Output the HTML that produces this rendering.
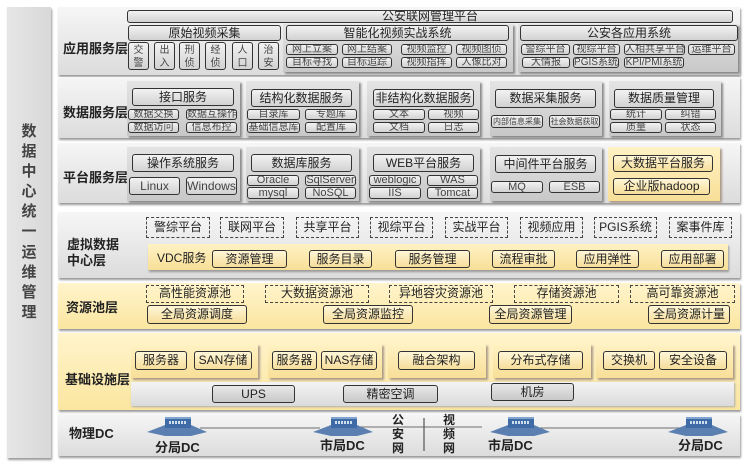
<!DOCTYPE html>
<html><head><meta charset="utf-8"><style>
*{box-sizing:border-box;margin:0;padding:0}
body{width:747px;height:463px;background:#fff;position:relative;overflow:hidden;font-family:"Liberation Sans","Noto Sans CJK SC",sans-serif;color:#222}
div{position:absolute}
.row{background:linear-gradient(#f6f6f6,#dcdcdc);box-shadow:1px 2px 2px #999}
.yrow{background:linear-gradient(#fff4cc,#fbe6a0);box-shadow:1px 2px 2px #999}
.pan{background:linear-gradient(#e4e4e4,#c8c8c8);box-shadow:2px 2px 2px #888}
.ypan{background:linear-gradient(#fff2c4,#f8df98);box-shadow:2px 2px 2px #a98}
.b{border:1px solid #333;border-radius:3px;background:linear-gradient(#f2f2f2,#d2d2d2);text-align:center;font-size:10px;color:#444;white-space:nowrap;overflow:hidden}
.t{font-size:12px;color:#222}
.y{background:linear-gradient(#fff7d8,#f6dd9a)}
.g{background:linear-gradient(#e8e8e8,#c8c8c8)}
.d{border:1.5px dashed #444;text-align:center;font-size:12px;color:#222;white-space:nowrap}
.lab{font-weight:bold;font-size:13px;color:#222;white-space:nowrap}
.v{font-size:10px;line-height:13px;padding-top:1px}
.lc{font-size:15px;font-weight:bold;color:#444;width:44px;text-align:center;left:7px}
</style></head><body>
<div style="left:7px;top:7px;width:44px;height:451px;background:linear-gradient(90deg,#e6e6e6,#d8d8d8);box-shadow:1px 2px 2px #999"></div>
<div class="lc" style="top:120px">数</div><div class="lc" style="top:140px">据</div><div class="lc" style="top:160px">中</div><div class="lc" style="top:180px">心</div><div class="lc" style="top:200px">统</div><div class="lc" style="top:220px">一</div><div class="lc" style="top:241px">运</div><div class="lc" style="top:261px">维</div><div class="lc" style="top:281px">管</div><div class="lc" style="top:301px">理</div>

<!-- rows -->
<div class="row" style="left:58px;top:7px;width:682px;height:68px"></div>
<div class="row" style="left:58px;top:77px;width:682px;height:61px"></div>
<div class="row" style="left:58px;top:143px;width:682px;height:60px"></div>
<div class="row" style="left:58px;top:212px;width:682px;height:66px"></div>
<div class="yrow" style="left:58px;top:283px;width:682px;height:46px"></div>
<div class="yrow" style="left:58px;top:333px;width:682px;height:77px"></div>
<div class="row" style="left:58px;top:414px;width:682px;height:42px"></div>

<div class="lab" style="left:63px;top:38px">应用服务层</div>
<div class="lab" style="left:63px;top:102px">数据服务层</div>
<div class="lab" style="left:63px;top:167px">平台服务层</div>
<div class="lab" style="left:67px;top:234px">虚拟数据</div>
<div class="lab" style="left:67px;top:250px">中心层</div>
<div class="lab" style="left:66px;top:297px">资源池层</div>
<div class="lab" style="left:65px;top:369px">基础设施层</div>
<div class="lab" style="left:69px;top:423px">物理DC</div>

<!-- app layer -->
<div class="b t" style="left:127px;top:10px;width:606px;height:13px;line-height:11px">公安联网管理平台</div>
<div class="b t" style="left:128px;top:25px;width:153px;height:16px;line-height:14px">原始视频采集</div>
<div class="b v" style="left:128px;top:42px;width:21px;height:28px">交<br>警</div>
<div class="b v" style="left:154px;top:42px;width:21px;height:28px">出<br>入</div>
<div class="b v" style="left:179px;top:42px;width:21px;height:28px">刑<br>侦</div>
<div class="b v" style="left:205px;top:42px;width:21px;height:28px">经<br>侦</div>
<div class="b v" style="left:232px;top:42px;width:21px;height:28px">人<br>口</div>
<div class="b v" style="left:258px;top:42px;width:21px;height:28px">治<br>安</div>
<div class="pan" style="left:283px;top:24px;width:230px;height:48px"></div>
<div class="b t" style="left:286px;top:25px;width:223px;height:16px;line-height:14px">智能化视频实战系统</div>
<div class="b" style="left:286px;top:44px;width:52px;height:11px;line-height:9px">网上立案</div>
<div class="b" style="left:342px;top:44px;width:50px;height:11px;line-height:9px">网上结案</div>
<div class="b" style="left:401px;top:44px;width:51px;height:11px;line-height:9px">视频监控</div>
<div class="b" style="left:456px;top:44px;width:51px;height:11px;line-height:9px">视频图侦</div>
<div class="b" style="left:286px;top:57px;width:52px;height:11px;line-height:9px">目标寻找</div>
<div class="b" style="left:342px;top:57px;width:50px;height:11px;line-height:9px">目标追踪</div>
<div class="b" style="left:401px;top:57px;width:51px;height:11px;line-height:9px">视频指挥</div>
<div class="b" style="left:456px;top:57px;width:51px;height:11px;line-height:9px">人像比对</div>
<div class="pan" style="left:518px;top:24px;width:220px;height:48px"></div>
<div class="b t" style="left:520px;top:25px;width:218px;height:16px;line-height:14px">公安各应用系统</div>
<div class="b" style="left:521px;top:44px;width:49px;height:11px;line-height:9px">警综平台</div>
<div class="b" style="left:573px;top:44px;width:47px;height:11px;line-height:9px">视综平台</div>
<div class="b" style="left:624px;top:44px;width:61px;height:11px;line-height:9px">人相共享平台</div>
<div class="b" style="left:688px;top:44px;width:47px;height:11px;line-height:9px">运维平台</div>
<div class="b" style="left:522px;top:57px;width:48px;height:11px;line-height:9px">大情报</div>
<div class="b" style="left:573px;top:57px;width:46px;height:11px;line-height:9px">PGIS系统</div>
<div class="b" style="left:624px;top:57px;width:60px;height:11px;line-height:9px">KPI/PMI系统</div>

<!-- data layer -->
<div class="pan" style="left:127px;top:81px;width:113px;height:55px"></div>
<div class="pan" style="left:246px;top:81px;width:113px;height:55px"></div>
<div class="pan" style="left:367px;top:81px;width:113px;height:55px"></div>
<div class="pan" style="left:490px;top:81px;width:112px;height:55px"></div>
<div class="pan" style="left:609px;top:81px;width:112px;height:55px"></div>
<div class="b t" style="left:132px;top:88px;width:102px;height:18px;line-height:16px">接口服务</div>
<div class="b t" style="left:251px;top:89px;width:101px;height:18px;line-height:16px">结构化数据服务</div>
<div class="b t" style="left:373px;top:89px;width:101px;height:18px;line-height:16px">非结构化数据服务</div>
<div class="b t" style="left:495px;top:89px;width:101px;height:19px;line-height:17px">数据采集服务</div>
<div class="b t" style="left:614px;top:89px;width:100px;height:19px;line-height:17px">数据质量管理</div>
<div class="b" style="left:128px;top:109px;width:51px;height:11px;line-height:9px">数据交换</div>
<div class="b" style="left:186px;top:109px;width:51px;height:11px;line-height:9px">数据互操作</div>
<div class="b" style="left:128px;top:122px;width:51px;height:11px;line-height:9px">数据访问</div>
<div class="b" style="left:186px;top:122px;width:51px;height:11px;line-height:9px">信息布控</div>
<div class="b" style="left:247px;top:109px;width:53px;height:11px;line-height:9px">目录库</div>
<div class="b" style="left:305px;top:109px;width:52px;height:11px;line-height:9px">专题库</div>
<div class="b" style="left:247px;top:122px;width:53px;height:11px;line-height:9px">基础信息库</div>
<div class="b" style="left:305px;top:122px;width:52px;height:11px;line-height:9px">配置库</div>
<div class="b" style="left:373px;top:109px;width:52px;height:11px;line-height:9px">文本</div>
<div class="b" style="left:428px;top:109px;width:51px;height:11px;line-height:9px">视频</div>
<div class="b" style="left:373px;top:122px;width:52px;height:11px;line-height:9px">文档</div>
<div class="b" style="left:428px;top:122px;width:51px;height:11px;line-height:9px">日志</div>
<div class="b" style="left:491px;top:115px;width:52px;height:13px;line-height:11px;font-size:8px">内部信息采集</div>
<div class="b" style="left:549px;top:115px;width:51px;height:13px;line-height:11px;font-size:8px">社会数据获取</div>
<div class="b" style="left:610px;top:109px;width:52px;height:11px;line-height:9px">统计</div>
<div class="b" style="left:665px;top:109px;width:51px;height:11px;line-height:9px">纠错</div>
<div class="b" style="left:610px;top:122px;width:52px;height:11px;line-height:9px">质量</div>
<div class="b" style="left:665px;top:122px;width:51px;height:11px;line-height:9px">状态</div>

<!-- platform layer -->
<div class="pan" style="left:127px;top:147px;width:113px;height:54px"></div>
<div class="pan" style="left:246px;top:147px;width:113px;height:54px"></div>
<div class="pan" style="left:367px;top:147px;width:113px;height:54px"></div>
<div class="pan" style="left:490px;top:147px;width:112px;height:54px"></div>
<div class="ypan" style="left:608px;top:147px;width:112px;height:54px"></div>
<div class="b t" style="left:132px;top:154px;width:102px;height:18px;line-height:16px">操作系统服务</div>
<div class="b t" style="left:251px;top:154px;width:101px;height:18px;line-height:16px">数据库服务</div>
<div class="b t" style="left:373px;top:154px;width:101px;height:18px;line-height:16px">WEB平台服务</div>
<div class="b t" style="left:495px;top:155px;width:101px;height:18px;line-height:16px">中间件平台服务</div>
<div class="b t y" style="left:613px;top:155px;width:100px;height:17px;line-height:15px">大数据平台服务</div>
<div class="b t y" style="left:613px;top:178px;width:97px;height:17px;line-height:15px">企业版hadoop</div>
<div class="b" style="left:129px;top:177px;width:51px;height:18px;line-height:16px;font-size:12px">Linux</div>
<div class="b" style="left:186px;top:177px;width:51px;height:18px;line-height:16px;font-size:12px">Windows</div>
<div class="b" style="left:247px;top:175px;width:52px;height:11px;line-height:9px;font-size:11px">Oracle</div>
<div class="b" style="left:305px;top:175px;width:51px;height:11px;line-height:9px;font-size:11px">SqlServer</div>
<div class="b" style="left:247px;top:187px;width:52px;height:12px;line-height:10px;font-size:11px">mysql</div>
<div class="b" style="left:305px;top:187px;width:51px;height:12px;line-height:10px;font-size:11px">NoSQL</div>
<div class="b" style="left:369px;top:175px;width:52px;height:11px;line-height:9px;font-size:11px">weblogic</div>
<div class="b" style="left:427px;top:175px;width:51px;height:11px;line-height:9px;font-size:11px">WAS</div>
<div class="b" style="left:369px;top:187px;width:52px;height:12px;line-height:10px;font-size:11px">IIS</div>
<div class="b" style="left:427px;top:187px;width:51px;height:12px;line-height:10px;font-size:11px">Tomcat</div>
<div class="b" style="left:491px;top:181px;width:52px;height:12px;line-height:10px;font-size:11px">MQ</div>
<div class="b" style="left:549px;top:181px;width:51px;height:12px;line-height:10px;font-size:11px">ESB</div>

<!-- VDC -->
<div class="d" style="left:146px;top:217px;width:64px;height:21px;line-height:18px">警综平台</div>
<div class="d" style="left:220px;top:217px;width:64px;height:21px;line-height:18px">联网平台</div>
<div class="d" style="left:296px;top:217px;width:63px;height:21px;line-height:18px">共享平台</div>
<div class="d" style="left:370px;top:217px;width:63px;height:21px;line-height:18px">视综平台</div>
<div class="d" style="left:445px;top:217px;width:63px;height:21px;line-height:18px">实战平台</div>
<div class="d" style="left:520px;top:217px;width:63px;height:21px;line-height:18px">视频应用</div>
<div class="d" style="left:594px;top:217px;width:63px;height:21px;line-height:18px">PGIS系统</div>
<div class="d" style="left:669px;top:217px;width:63px;height:21px;line-height:18px">案事件库</div>
<div class="ypan" style="left:148px;top:244px;width:580px;height:26px;box-shadow:1px 2px 2px #999"></div>
<div style="left:157px;top:249px;font-size:12px">VDC服务</div>
<div class="b t y" style="left:212px;top:250px;width:75px;height:18px;line-height:16px">资源管理</div>
<div class="b t y" style="left:309px;top:250px;width:63px;height:18px;line-height:16px">服务目录</div>
<div class="b t y" style="left:395px;top:250px;width:75px;height:18px;line-height:16px">服务管理</div>
<div class="b t y" style="left:492px;top:250px;width:63px;height:18px;line-height:16px">流程审批</div>
<div class="b t y" style="left:576px;top:250px;width:63px;height:18px;line-height:16px">应用弹性</div>
<div class="b t y" style="left:661px;top:250px;width:63px;height:18px;line-height:16px">应用部署</div>

<!-- resource pool -->
<div class="d" style="left:146px;top:285px;width:98px;height:18px;line-height:15px">高性能资源池</div>
<div class="d" style="left:265px;top:285px;width:104px;height:18px;line-height:15px">大数据资源池</div>
<div class="d" style="left:389px;top:285px;width:104px;height:18px;line-height:15px">异地容灾资源池</div>
<div class="d" style="left:514px;top:285px;width:105px;height:18px;line-height:15px">存储资源池</div>
<div class="d" style="left:630px;top:285px;width:105px;height:18px;line-height:15px">高可靠资源池</div>
<div class="b t y" style="left:147px;top:305px;width:100px;height:19px;line-height:17px">全局资源调度</div>
<div class="b t y" style="left:323px;top:305px;width:90px;height:19px;line-height:17px">全局资源监控</div>
<div class="b t y" style="left:489px;top:305px;width:83px;height:19px;line-height:17px">全局资源管理</div>
<div class="b t y" style="left:648px;top:305px;width:82px;height:19px;line-height:17px">全局资源计量</div>

<!-- infra -->
<div class="ypan" style="left:131px;top:344px;width:127px;height:34px"></div>
<div class="ypan" style="left:268px;top:344px;width:114px;height:34px"></div>
<div class="ypan" style="left:388px;top:344px;width:98px;height:34px"></div>
<div class="ypan" style="left:493px;top:344px;width:98px;height:34px"></div>
<div class="ypan" style="left:596px;top:344px;width:137px;height:34px"></div>
<div class="b t y" style="left:135px;top:351px;width:52px;height:19px;line-height:17px">服务器</div>
<div class="b t y" style="left:194px;top:351px;width:58px;height:19px;line-height:17px">SAN存储</div>
<div class="b t y" style="left:272px;top:351px;width:45px;height:19px;line-height:17px">服务器</div>
<div class="b t y" style="left:321px;top:351px;width:56px;height:19px;line-height:17px">NAS存储</div>
<div class="b t y" style="left:398px;top:351px;width:77px;height:19px;line-height:17px">融合架构</div>
<div class="b t y" style="left:498px;top:351px;width:85px;height:19px;line-height:17px">分布式存储</div>
<div class="b t y" style="left:603px;top:351px;width:52px;height:19px;line-height:17px">交换机</div>
<div class="b t y" style="left:659px;top:351px;width:68px;height:19px;line-height:17px">安全设备</div>
<div style="left:131px;top:382px;width:603px;height:24px;background:linear-gradient(#f4f4f4,#dadada);box-shadow:1px 1px 2px #aaa"></div>
<div class="b t g" style="left:212px;top:385px;width:83px;height:18px;line-height:16px">UPS</div>
<div class="b t g" style="left:343px;top:385px;width:95px;height:18px;line-height:16px">精密空调</div>
<div class="b t g" style="left:491px;top:383px;width:83px;height:18px;line-height:16px">机房</div>

<!-- physical DC -->
<svg style="position:absolute;left:0;top:0" width="747" height="463">
<g stroke="#888" stroke-width="1.2">
<line x1="200" y1="428" x2="320" y2="428"/>
<line x1="360" y1="427" x2="482" y2="427"/>
<line x1="540" y1="428" x2="680" y2="428"/>
<line x1="424" y1="418" x2="424" y2="451" stroke="#555"/>
</g>
<defs><g id="sw">
<polygon points="-30,8 -12,1 14,1 30,8 14,12 -12,12" fill="#5a7fb0"/>
<rect x="-12" y="-6" width="26" height="10" fill="#3e6aa6"/>
<rect x="-12" y="-7" width="26" height="2" fill="#7fa4d0"/>
<g fill="#cde">
<rect x="-8" y="-3" width="2" height="3"/><rect x="-5" y="-3" width="2" height="3"/><rect x="-2" y="-3" width="2" height="3"/><rect x="1" y="-3" width="2" height="3"/><rect x="4" y="-3" width="2" height="3"/><rect x="7" y="-3" width="2" height="3"/></g>
</g></defs>
<use href="#sw" x="177" y="424"/>
<use href="#sw" x="343" y="424"/>
<use href="#sw" x="520" y="424"/>
<use href="#sw" x="698" y="424"/>
</svg>
<div class="lab" style="left:155px;top:437px">分局DC</div>
<div class="lab" style="left:320px;top:435px">市局DC</div>
<div class="lab" style="left:488px;top:435px">市局DC</div>
<div class="lab" style="left:678px;top:435px">分局DC</div>
<div class="lab" style="left:392px;top:413px;line-height:14px;width:14px;font-size:12px">公<br>安<br>网</div>
<div class="lab" style="left:443px;top:413px;line-height:14px;width:14px;font-size:12px">视<br>频<br>网</div>
</body></html>
